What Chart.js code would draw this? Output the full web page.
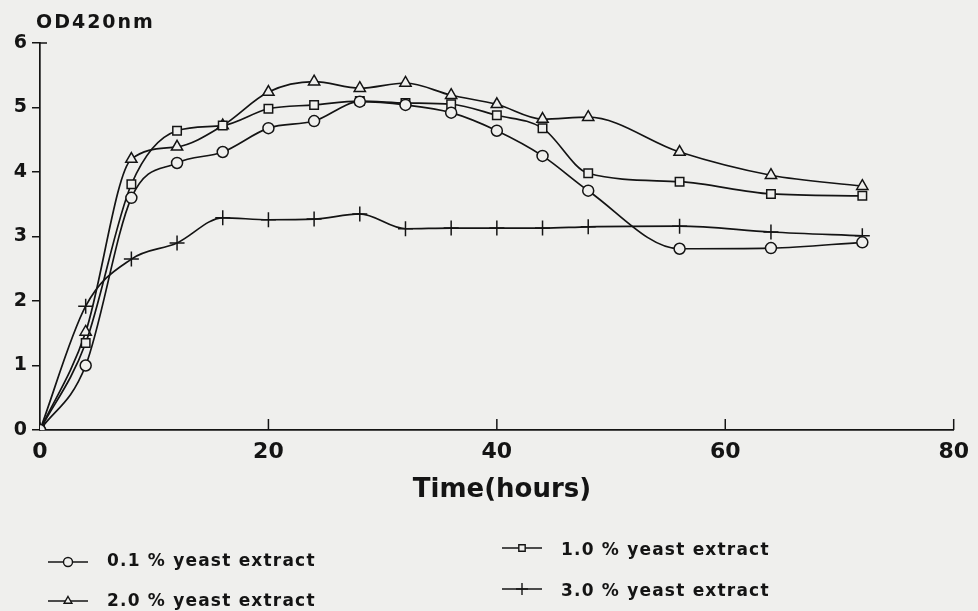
<!DOCTYPE html>
<html>
<head>
<meta charset="utf-8">
<title>OD420nm growth curves</title>
<script src="https://cdn.jsdelivr.net/npm/chart.js@4.4.1/dist/chart.umd.min.js"></script>
<style>
    html, body { margin: 0; padding: 0; background: #efefed; }
    #wrap { width: 978px; height: 611px; }
</style>
</head>
<body>
<div id="wrap"><canvas id="grafica" width="978" height="611"></canvas></div>
<script>
// sampling times (hours)
const hours = [0, 4, 8, 12, 16, 20, 24, 28, 32, 36, 40, 44, 48, 56, 64, 72];

// OD420nm per yeast extract concentration
const yeast01 = [0, 1.00, 3.60, 4.14, 4.31, 4.68, 4.79, 5.09, 5.04, 4.92, 4.64, 4.25, 3.71, 2.81, 2.82, 2.91];
const yeast10 = [0, 1.35, 3.81, 4.64, 4.72, 4.98, 5.04, 5.10, 5.07, 5.05, 4.88, 4.68, 3.98, 3.85, 3.66, 3.63];
const yeast20 = [0, 1.52, 4.20, 4.39, 4.72, 5.24, 5.40, 5.30, 5.38, 5.19, 5.05, 4.82, 4.85, 4.31, 3.95, 3.78];
const yeast30 = [0, 1.92, 2.65, 2.90, 3.29, 3.26, 3.27, 3.35, 3.12, 3.13, 3.13, 3.13, 3.15, 3.16, 3.07, 3.01];

const seriesLabels = ['0.1 % yeast extract', '1.0 % yeast extract', '2.0 % yeast extract', '3.0 % yeast extract'];
const yTicks = [0, 1, 2, 3, 4, 5, 6];
const xTicks = [0, 20, 40, 60, 80];
const yTitle = 'OD420nm';
const xTitle = 'Time(hours)';

const paper = '#efefed';
const ink = '#141414';
const FONT = 'DejaVu Sans';

function toPoints(values) {
    return hours.map((h, i) => ({ x: h, y: values[i] }));
}

function makeSet(label, values, style, radius) {
    return {
        label: label,
        data: toPoints(values),
        borderColor: ink,
        borderWidth: 1.7,
        cubicInterpolationMode: 'monotone',
        fill: false,
        pointStyle: style,
        pointRadius: radius,
        pointBorderWidth: 1.5,
        pointBorderColor: ink,
        pointBackgroundColor: paper
    };
}

// legend slots: [dataset index, line start x, line y, text x, text baseline]
const legendSlots = [
    [0, 48, 562, 107, 566],
    [2, 48, 601, 107, 606],
    [1, 502, 548, 561, 555],
    [3, 502, 589, 561, 596]
];

const extras = {
    id: 'extras',
    beforeDraw(chart) {
        const ctx = chart.ctx;
        ctx.save();
        ctx.fillStyle = paper;
        ctx.fillRect(0, 0, chart.width, chart.height);
        ctx.restore();
    },
    afterDraw(chart) {
        const { ctx, scales: { x, y } } = chart;
        ctx.save();
        ctx.strokeStyle = ink;
        ctx.fillStyle = ink;
        ctx.lineWidth = 1.5;

        // time axis ticks point up into the plot
        x.ticks.forEach(t => {
            if (t.value === 0) return;
            const px = x.getPixelForValue(t.value);
            ctx.beginPath();
            ctx.moveTo(px, y.bottom);
            ctx.lineTo(px, y.bottom - 11);
            ctx.stroke();
        });
        // short cap at the top of the value axis
        ctx.beginPath();
        ctx.moveTo(x.left, y.top);
        ctx.lineTo(x.left + 7, y.top);
        ctx.stroke();

        // axis titles
        ctx.font = 'bold 19px ' + FONT;
        ctx.letterSpacing = '2px';
        ctx.textAlign = 'left';
        ctx.textBaseline = 'alphabetic';
        ctx.fillText(yTitle, 36, 28);

        ctx.font = 'bold 26px ' + FONT;
        ctx.letterSpacing = '0px';
        ctx.textAlign = 'center';
        ctx.fillText(xTitle, 502, 497);

        // legend
        ctx.font = 'bold 17px ' + FONT;
        ctx.letterSpacing = '1.2px';
        ctx.textAlign = 'left';
        legendSlots.forEach(([idx, lx, ly, tx, ty]) => {
            const ds = chart.data.datasets[idx];
            ctx.strokeStyle = ink;
            ctx.lineWidth = 1.4;
            ctx.beginPath();
            ctx.moveTo(lx, ly);
            ctx.lineTo(lx + 40, ly);
            ctx.stroke();
            ctx.fillStyle = paper;
            Chart.helpers.drawPoint(ctx, {
                pointStyle: ds.pointStyle,
                radius: ds.pointStyle === 'cross' ? 6 : 4.5,
                borderWidth: 1.2,
                rotation: 0
            }, lx + 20, ly);
            ctx.fillStyle = ink;
            ctx.fillText(ds.label, tx, ty);
        });
        ctx.restore();
    }
};

new Chart(document.getElementById('grafica'), {
    type: 'line',
    data: {
        datasets: [
            makeSet(seriesLabels[0], yeast01, 'circle', 5.5),
            makeSet(seriesLabels[1], yeast10, 'rect', 6),
            makeSet(seriesLabels[2], yeast20, 'triangle', 6.5),
            makeSet(seriesLabels[3], yeast30, 'cross', 7.5)
        ]
    },
    options: {
        responsive: false,
        animation: false,
        layout: { padding: { top: 43, right: 24, bottom: 0, left: 0 } },
        plugins: {
            legend: { display: false },
            tooltip: { enabled: false }
        },
        scales: {
            x: {
                type: 'linear',
                min: 0,
                max: 80,
                afterFit: s => { s.height = 181; },
                afterBuildTicks: s => { s.ticks = xTicks.map(v => ({ value: v })); },
                grid: { display: false, drawTicks: false },
                border: { display: true, color: ink, width: 1.7 },
                ticks: {
                    padding: 9,
                    color: ink,
                    font: { family: FONT, weight: 'bold', size: 22 }
                }
            },
            y: {
                min: 0,
                max: 6,
                afterFit: s => { s.width = 40; },
                afterBuildTicks: s => { s.ticks = yTicks.map(v => ({ value: v })); },
                grid: { drawOnChartArea: false, drawTicks: true, tickLength: 8, color: ink, lineWidth: 1.5 },
                border: { display: true, color: ink, width: 1.7 },
                ticks: {
                    padding: 5,
                    color: ink,
                    font: { family: FONT, weight: 'bold', size: 19 }
                }
            }
        }
    },
    plugins: [extras]
});
</script>
</body>
</html>
